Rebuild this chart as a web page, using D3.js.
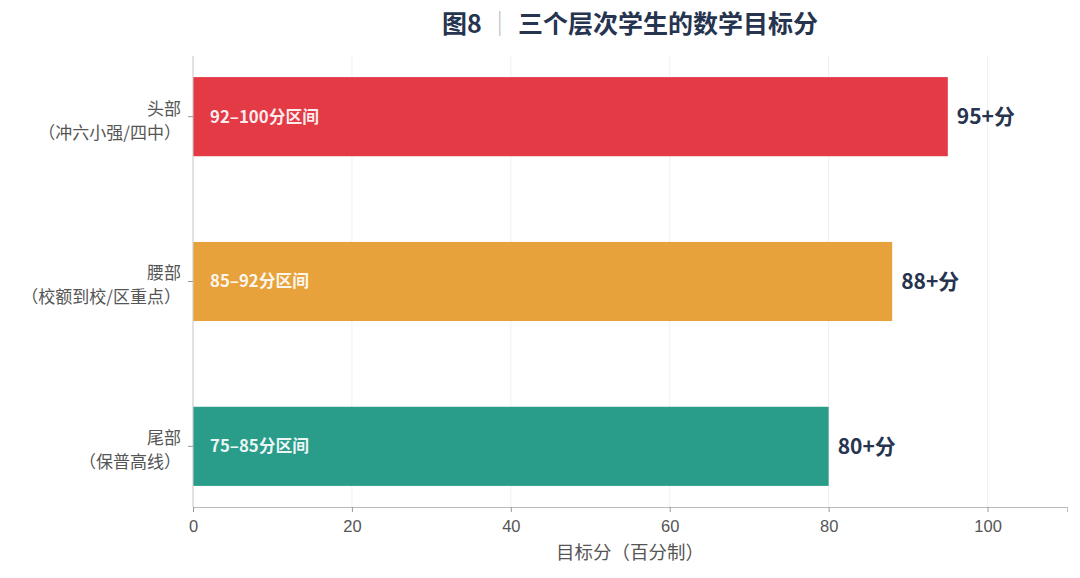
<!DOCTYPE html>
<html>
<head>
<meta charset="utf-8">
<script src="https://cdn.jsdelivr.net/npm/d3@7"></script>
<style>
  body { margin: 0; background: #fff; }
  svg { font-family: "Noto Sans CJK SC", "Noto Sans", sans-serif; }
</style>
</head>
<body>
<svg id="svg"></svg>
<script>
// 数据
var groups = ["头部", "腰部", "尾部"];
var groupNotes = ["（冲六小强/四中）", "（校额到校/区重点）", "（保普高线）"];
var targets = [95, 88, 80];
var ranges = ["92–100分区间", "85–92分区间", "75–85分区间"];
var valueLabels = ["95+分", "88+分", "80+分"];
var colors = ["#E43A46", "#E8A23B", "#2A9D8A"];
var xTicks = [0, 20, 40, 60, 80, 100];

var width = 1080, height = 578;
var margin = {left: 193, right: 13, top: 56, bottom: 71};
var plot_width = width - margin.left - margin.right;
var plot_height = height - margin.top - margin.bottom;

var svg = d3.select("#svg").attr("width", width).attr("height", height);
var container = svg.append("g").attr("transform", `translate(${margin.left}, ${margin.top})`);

var xScale = d3.scaleLinear().domain([0, 110]).range([0, plot_width]);
var yScale = d3.scaleBand().domain(groups).range([0, plot_height])
    .paddingInner(0.52).paddingOuter(0.128);

// 网格线
container.selectAll(".grid")
    .data(xTicks)
    .enter()
    .append("line")
    .attr("x1", d => xScale(d))
    .attr("x2", d => xScale(d))
    .attr("y1", 0)
    .attr("y2", plot_height)
    .style("stroke", "#f0f0f0")
    .style("stroke-width", 1);

// 柱子
container.selectAll(".bar")
    .data(groups)
    .enter()
    .append("rect")
    .attr("x", xScale(0))
    .attr("y", d => yScale(d))
    .attr("width", (d, i) => xScale(targets[i]) - xScale(0))
    .attr("height", yScale.bandwidth())
    .style("fill", (d, i) => colors[i]);

// 区间标签
container.selectAll(".range")
    .data(groups)
    .enter()
    .append("text")
    .attr("x", xScale(0) + 17)
    .attr("y", d => yScale(d) + yScale.bandwidth() / 2)
    .attr("dy", "0.35em")
    .style("font-size", "16.8px")
    .style("font-weight", "bold")
    .style("fill", "#fff")
    .style("fill-opacity", 0.92)
    .text((d, i) => ranges[i]);

// 数值标签
container.selectAll(".value")
    .data(groups)
    .enter()
    .append("text")
    .attr("x", (d, i) => xScale(targets[i]) + 9)
    .attr("y", d => yScale(d) + yScale.bandwidth() / 2)
    .attr("dy", "0.35em")
    .style("font-size", "21px")
    .style("font-weight", "bold")
    .style("fill", "#26344f")
    .text((d, i) => valueLabels[i]);

// x轴
var xAxis = container.append("g")
    .attr("transform", `translate(0, ${plot_height})`)
    .call(d3.axisBottom(xScale).tickValues(xTicks).tickSize(5).tickPadding(8));
xAxis.select(".domain").style("stroke", "#bbb");
xAxis.selectAll(".tick line").style("stroke", "#999");
xAxis.selectAll("text").style("font-size", "16.5px").style("fill", "#555");

// y轴
var yAxis = container.append("g")
    .call(d3.axisLeft(yScale).tickSize(5).tickFormat(""));
yAxis.select(".domain").attr("d", `M0,0V${plot_height}`).style("stroke", "#ccc");
yAxis.selectAll(".tick line").style("stroke", "#999");

container.selectAll(".ylabel1")
    .data(groups)
    .enter()
    .append("text")
    .attr("x", -12)
    .attr("y", d => yScale(d) + yScale.bandwidth() / 2 - 8)
    .attr("dy", "0.35em")
    .attr("text-anchor", "end")
    .style("font-size", "17px")
    .style("fill", "#555")
    .text(d => d);

container.selectAll(".ylabel2")
    .data(groups)
    .enter()
    .append("text")
    .attr("x", -12)
    .attr("y", d => yScale(d) + yScale.bandwidth() / 2 + 16)
    .attr("dy", "0.35em")
    .attr("text-anchor", "end")
    .style("font-size", "17px")
    .style("fill", "#555")
    .text((d, i) => groupNotes[i]);

// 轴标题
svg.append("text")
    .attr("x", margin.left + plot_width / 2)
    .attr("y", 553)
    .attr("dy", "0.35em")
    .attr("text-anchor", "middle")
    .style("font-size", "18.5px")
    .style("fill", "#555")
    .text("目标分（百分制）");

// 标题
var title = svg.append("text")
    .attr("x", margin.left + plot_width / 2)
    .attr("y", 24)
    .attr("dy", "0.35em")
    .attr("text-anchor", "middle")
    .style("font-size", "25px")
    .style("font-weight", "bold")
    .style("fill", "#26344f");
title.append("tspan").text("图8");
title.append("tspan").style("fill", "#bbb").style("font-weight", "normal").text(" ｜ ");
title.append("tspan").text("三个层次学生的数学目标分");
</script>
</body>
</html>
